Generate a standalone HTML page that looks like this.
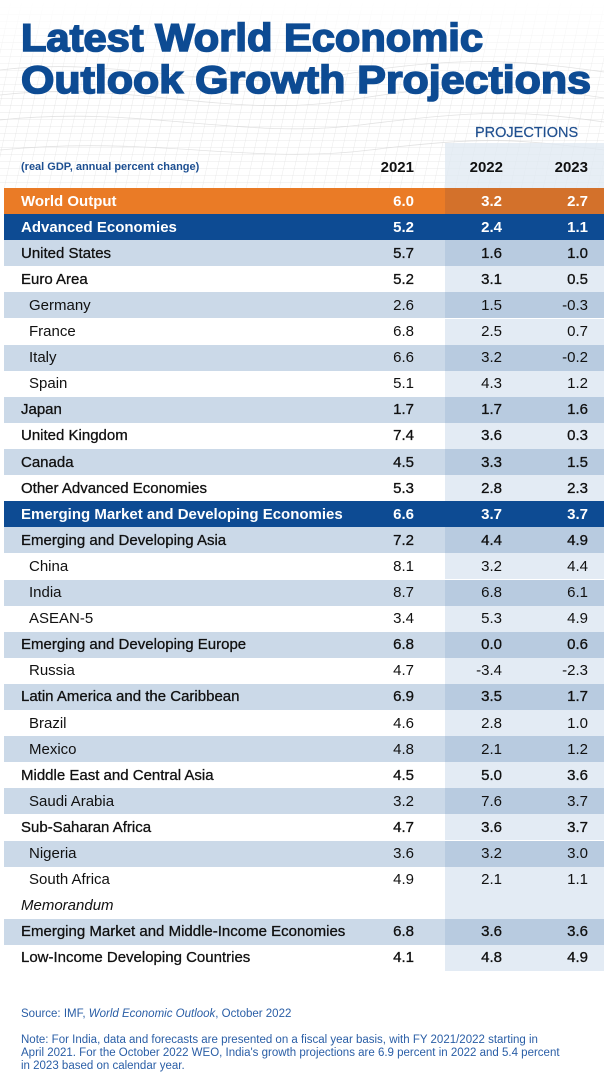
<!DOCTYPE html>
<html>
<head>
<meta charset="utf-8">
<style>
  html,body{margin:0;padding:0;background:#fff;}
  #wrap{position:relative;width:604px;height:1072px;overflow:hidden;background:#fff;font-family:"Liberation Sans",sans-serif;}
  .row{position:absolute;left:4px;width:600px;height:26.1px;}
  .pc{position:absolute;left:441px;top:0;width:159px;height:100%;}
  .lab{position:absolute;top:0;height:100%;display:flex;align-items:center;font-size:15px;color:#111;white-space:nowrap;}
  .v{position:absolute;top:0;height:100%;display:flex;align-items:center;font-size:15px;color:#111;}
  .c1{right:190px;} .c2{right:102px;} .c3{right:16px;}
  .m{-webkit-text-stroke:0.3px #111;}
  .b{font-weight:bold;color:#fff;}
  .L{background:#cbd9e8;} .L .pc{background:#b8cbe0;}
  .W{background:transparent;} .W .pc{background:#e3ebf4;}
  .O{background:#ea7b26;} .O .pc{background:#d3712b;}
  .B{background:#0d4b93;} .B .pc{background:#0d4b93;}
  .foot{position:absolute;left:21px;font-size:11.5px;color:#2a5ea6;line-height:12.8px;white-space:nowrap;}
</style>
</head>
<body>
<div id="wrap">
  <svg width="604" height="200" style="position:absolute;left:0;top:0" xmlns="http://www.w3.org/2000/svg">
    <defs>
      <pattern id="g" width="11" height="7" patternUnits="userSpaceOnUse" patternTransform="skewX(-12)">
        <path d="M0 0 H11 M0 0 V7" stroke="#dedede" stroke-width="0.7" fill="none"/>
      </pattern>
      <linearGradient id="fd" x1="0" y1="0" x2="0" y2="1">
        <stop offset="0" stop-color="#fff" stop-opacity="0"/>
        <stop offset="0.2" stop-color="#fff" stop-opacity="0.5"/>
        <stop offset="0.5" stop-color="#fff" stop-opacity="1"/>
        <stop offset="1" stop-color="#fff" stop-opacity="0.8"/>
      </linearGradient>
      <mask id="mk"><rect width="604" height="200" fill="url(#fd)"/></mask>
    </defs>
    <rect x="0" y="0" width="604" height="188" fill="url(#g)" mask="url(#mk)"/>
    <g stroke="#d8d8d8" stroke-width="0.8" fill="none" opacity="0.7">
      <path d="M0 70 C120 55 220 95 340 75 S520 60 604 72"/>
      <path d="M0 95 C130 80 230 120 350 100 S520 85 604 98"/>
      <path d="M0 120 C140 105 240 140 360 125 S520 110 604 122"/>
      <path d="M0 150 C150 135 250 165 370 150 S520 140 604 150"/>
    </g>
    <rect x="445" y="143" width="159" height="45" fill="#dfe8f2" opacity="0.75"/>
  </svg>

  <svg width="604" height="120" style="position:absolute;left:0;top:0" xmlns="http://www.w3.org/2000/svg">
    <text x="21" y="51" font-family="Liberation Sans, sans-serif" font-weight="bold" font-size="39" fill="#0d4b93" stroke="#0d4b93" stroke-width="1.6" textLength="462" lengthAdjust="spacingAndGlyphs">Latest World Economic</text>
    <text x="21" y="93" font-family="Liberation Sans, sans-serif" font-weight="bold" font-size="39" fill="#0d4b93" stroke="#0d4b93" stroke-width="1.6" textLength="570" lengthAdjust="spacingAndGlyphs">Outlook Growth Projections</text>
  </svg>

  <div style="position:absolute;left:475px;top:125px;font-size:14.5px;color:#1f4f8f;-webkit-text-stroke:0.2px #1f4f8f;">PROJECTIONS</div>
  <div style="position:absolute;left:21px;top:161px;font-size:11px;font-weight:bold;color:#1d4f91;">(real GDP, annual percent change)</div>
  <div style="position:absolute;right:190px;top:159px;font-size:15px;font-weight:bold;color:#111;">2021</div>
  <div style="position:absolute;right:101px;top:159px;font-size:15px;font-weight:bold;color:#111;">2022</div>
  <div style="position:absolute;right:16px;top:159px;font-size:15px;font-weight:bold;color:#111;">2023</div>

  <div class="row O" style="top:188px"><div class="pc"></div><div class="lab b" style="left:17px">World Output</div><div class="v c1 b">6.0</div><div class="v c2 b">3.2</div><div class="v c3 b">2.7</div></div>
  <div class="row B" style="top:214.1px"><div class="pc"></div><div class="lab b" style="left:17px">Advanced Economies</div><div class="v c1 b">5.2</div><div class="v c2 b">2.4</div><div class="v c3 b">1.1</div></div>
  <div class="row L" style="top:240.2px"><div class="pc"></div><div class="lab m" style="left:17px">United States</div><div class="v c1 m">5.7</div><div class="v c2 m">1.6</div><div class="v c3 m">1.0</div></div>
  <div class="row W" style="top:266.3px"><div class="pc"></div><div class="lab m" style="left:17px">Euro Area</div><div class="v c1 m">5.2</div><div class="v c2 m">3.1</div><div class="v c3 m">0.5</div></div>
  <div class="row L" style="top:292.4px"><div class="pc"></div><div class="lab" style="left:25px">Germany</div><div class="v c1">2.6</div><div class="v c2">1.5</div><div class="v c3">-0.3</div></div>
  <div class="row W" style="top:318.5px"><div class="pc"></div><div class="lab" style="left:25px">France</div><div class="v c1">6.8</div><div class="v c2">2.5</div><div class="v c3">0.7</div></div>
  <div class="row L" style="top:344.6px"><div class="pc"></div><div class="lab" style="left:25px">Italy</div><div class="v c1">6.6</div><div class="v c2">3.2</div><div class="v c3">-0.2</div></div>
  <div class="row W" style="top:370.7px"><div class="pc"></div><div class="lab" style="left:25px">Spain</div><div class="v c1">5.1</div><div class="v c2">4.3</div><div class="v c3">1.2</div></div>
  <div class="row L" style="top:396.8px"><div class="pc"></div><div class="lab m" style="left:17px">Japan</div><div class="v c1 m">1.7</div><div class="v c2 m">1.7</div><div class="v c3 m">1.6</div></div>
  <div class="row W" style="top:422.9px"><div class="pc"></div><div class="lab m" style="left:17px">United Kingdom</div><div class="v c1 m">7.4</div><div class="v c2 m">3.6</div><div class="v c3 m">0.3</div></div>
  <div class="row L" style="top:449px"><div class="pc"></div><div class="lab m" style="left:17px">Canada</div><div class="v c1 m">4.5</div><div class="v c2 m">3.3</div><div class="v c3 m">1.5</div></div>
  <div class="row W" style="top:475.1px"><div class="pc"></div><div class="lab m" style="left:17px">Other Advanced Economies</div><div class="v c1 m">5.3</div><div class="v c2 m">2.8</div><div class="v c3 m">2.3</div></div>
  <div class="row B" style="top:501.2px"><div class="pc"></div><div class="lab b" style="left:17px">Emerging Market and Developing Economies</div><div class="v c1 b">6.6</div><div class="v c2 b">3.7</div><div class="v c3 b">3.7</div></div>
  <div class="row L" style="top:527.3px"><div class="pc"></div><div class="lab m" style="left:17px">Emerging and Developing Asia</div><div class="v c1 m">7.2</div><div class="v c2 m">4.4</div><div class="v c3 m">4.9</div></div>
  <div class="row W" style="top:553.4px"><div class="pc"></div><div class="lab" style="left:25px">China</div><div class="v c1">8.1</div><div class="v c2">3.2</div><div class="v c3">4.4</div></div>
  <div class="row L" style="top:579.5px"><div class="pc"></div><div class="lab" style="left:25px">India</div><div class="v c1">8.7</div><div class="v c2">6.8</div><div class="v c3">6.1</div></div>
  <div class="row W" style="top:605.6px"><div class="pc"></div><div class="lab" style="left:25px">ASEAN-5</div><div class="v c1">3.4</div><div class="v c2">5.3</div><div class="v c3">4.9</div></div>
  <div class="row L" style="top:631.7px"><div class="pc"></div><div class="lab m" style="left:17px">Emerging and Developing Europe</div><div class="v c1 m">6.8</div><div class="v c2 m">0.0</div><div class="v c3 m">0.6</div></div>
  <div class="row W" style="top:657.8px"><div class="pc"></div><div class="lab" style="left:25px">Russia</div><div class="v c1">4.7</div><div class="v c2">-3.4</div><div class="v c3">-2.3</div></div>
  <div class="row L" style="top:683.9px"><div class="pc"></div><div class="lab m" style="left:17px">Latin America and the Caribbean</div><div class="v c1 m">6.9</div><div class="v c2 m">3.5</div><div class="v c3 m">1.7</div></div>
  <div class="row W" style="top:710px"><div class="pc"></div><div class="lab" style="left:25px">Brazil</div><div class="v c1">4.6</div><div class="v c2">2.8</div><div class="v c3">1.0</div></div>
  <div class="row L" style="top:736.1px"><div class="pc"></div><div class="lab" style="left:25px">Mexico</div><div class="v c1">4.8</div><div class="v c2">2.1</div><div class="v c3">1.2</div></div>
  <div class="row W" style="top:762.2px"><div class="pc"></div><div class="lab m" style="left:17px">Middle East and Central Asia</div><div class="v c1 m">4.5</div><div class="v c2 m">5.0</div><div class="v c3 m">3.6</div></div>
  <div class="row L" style="top:788.3px"><div class="pc"></div><div class="lab" style="left:25px">Saudi Arabia</div><div class="v c1">3.2</div><div class="v c2">7.6</div><div class="v c3">3.7</div></div>
  <div class="row W" style="top:814.4px"><div class="pc"></div><div class="lab m" style="left:17px">Sub-Saharan Africa</div><div class="v c1 m">4.7</div><div class="v c2 m">3.6</div><div class="v c3 m">3.7</div></div>
  <div class="row L" style="top:840.5px"><div class="pc"></div><div class="lab" style="left:25px">Nigeria</div><div class="v c1">3.6</div><div class="v c2">3.2</div><div class="v c3">3.0</div></div>
  <div class="row W" style="top:866.6px"><div class="pc"></div><div class="lab" style="left:25px">South Africa</div><div class="v c1">4.9</div><div class="v c2">2.1</div><div class="v c3">1.1</div></div>
  <div class="row W" style="top:892.7px"><div class="pc"></div><div class="lab" style="left:17px;font-style:italic">Memorandum</div></div>
  <div class="row L" style="top:918.8px"><div class="pc"></div><div class="lab m" style="left:17px">Emerging Market and Middle-Income Economies</div><div class="v c1 m">6.8</div><div class="v c2 m">3.6</div><div class="v c3 m">3.6</div></div>
  <div class="row W" style="top:944.9px"><div class="pc"></div><div class="lab m" style="left:17px">Low-Income Developing Countries</div><div class="v c1 m">4.1</div><div class="v c2 m">4.8</div><div class="v c3 m">4.9</div></div>

  <div class="foot" style="top:1008px">Source: IMF, <i>World Economic Outlook</i>, October 2022</div>
  <div class="foot" style="top:1034px">Note: For India, data and forecasts are presented on a fiscal year basis, with FY 2021/2022 starting in<br>April 2021. For the October 2022 WEO, India's growth projections are 6.9 percent in 2022 and 5.4 percent<br>in 2023 based on calendar year.</div>
</div>
</body>
</html>
